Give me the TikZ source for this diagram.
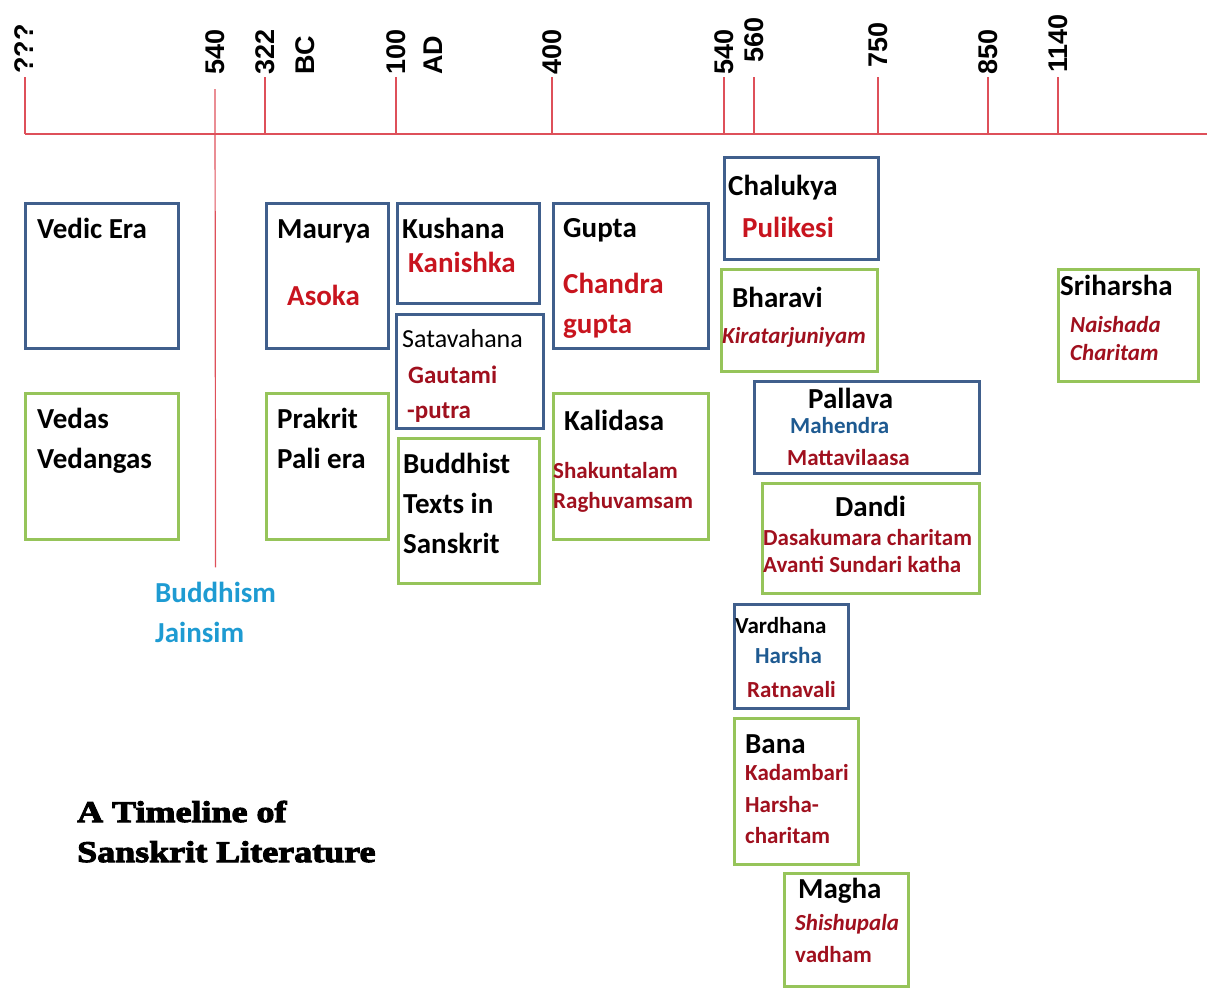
\documentclass[tikz,border=0pt]{standalone}
\usepackage{fontspec}
\setmainfont{Carlito}
\newfontfamily\tickfont{Liberation Sans}
\newfontfamily\titlefont[FakeStretch=1.2,FakeBold=3.5]{Liberation Serif}
\definecolor{boxblue}{RGB}{64,95,140}
\definecolor{boxgreen}{RGB}{150,196,90}
\definecolor{tlred}{RGB}{222,80,90}
\definecolor{redA}{RGB}{200,20,30}
\definecolor{redB}{RGB}{160,16,30}
\definecolor{textblue}{RGB}{30,90,145}
\definecolor{skyblue}{RGB}{30,155,210}

\begin{document}
\begin{tikzpicture}[x=1pt, y=-1pt,
    era/.style={draw=boxblue, line width=3pt, anchor=north west, inner sep=0pt},
    work/.style={draw=boxgreen, line width=3pt, anchor=north west, inner sep=0pt},
    head/.style={font=\bfseries\fontsize{29}{31}\selectfont, anchor=base west, inner sep=0pt},
    king/.style={head, text=redA},
    sub/.style={font=\bfseries\fontsize{23}{25}\selectfont, text=redB, anchor=base west, inner sep=0pt},
    year/.style={font=\tickfont\bfseries\fontsize{27}{29}\selectfont, rotate=90, anchor=west, inner sep=0pt},
    tl/.style={draw=tlred, line width=1.2pt}]
    \useasboundingbox (0,0) rectangle (1207,988);

    % time line
    \coordinate (tlstart) at (25,134);
    \coordinate (tlend) at (1207,134);
    \draw[tl] (tlstart) -- (tlend);
    \foreach \x/\n in {25/q, 265/bc, 396/ad, 552/f, 724/fb, 754/fs, 878/s, 988/e, 1058/t}
      {\coordinate (top\n) at (\x,77);
       \coordinate (bot\n) at (\x,134);
       \draw[tl] (top\n) -- (bot\n);}
    \node[year] (yq)   at (24,74)   {???};
    \node[year] (yb)   at (215,75)  {540};
    \node[year] (ybc)  at (265,75)  {322};
    \node[year] (lbc)  at (305,75)  {BC};
    \node[year] (yad)  at (396,75)  {100};
    \node[year] (lad)  at (433,75)  {AD};
    \node[year] (yf)   at (552,75)  {400};
    \node[year] (yfb)  at (724,75)  {540};
    \node[year] (yfs)  at (754,63)  {560};
    \node[year] (ys)   at (878,68)  {750};
    \node[year] (ye)   at (988,75)  {850};
    \node[year] (yt)   at (1058,73) {1140};

    % religions
    \node[head, text=skyblue] (buddhism) at (155,602) {Buddhism};
    \node[head, text=skyblue] (jainism)  at (155,642) {Jainsim};
    \coordinate (b540) at (215,89);
    \draw[tl] (b540) -- (buddhism.north) [shorten >=14pt];

    % eras and works
    \node[era, minimum width=153, minimum height=145] (vedic) at (24,202) {};
    \node[head] (vedict) at (37,238) {Vedic Era};
    \node[work, minimum width=153, minimum height=146] (vedas) at (24,392) {};
    \node[head] (vedast) at (37,428) {Vedas};
    \node[head] (vedangas) at (37,468) {Vedangas};

    \node[era, minimum width=122, minimum height=145] (maurya) at (265,202) {};
    \node[head] (mauryat) at (277,238) {Maurya};
    \node[king] (asoka) at (287,305) {Asoka};
    \node[work, minimum width=122, minimum height=146] (prakrit) at (265,392) {};
    \node[head] (prakritt) at (277,428) {Prakrit};
    \node[head] (pali) at (277,468) {Pali era};

    \node[era, minimum width=142, minimum height=100] (kushana) at (396,202) {};
    \node[head] (kushanat) at (402,238) {Kushana};
    \node[king] (kanishka) at (408,272) {Kanishka};
    \node[era, minimum width=147, minimum height=114] (satavahana) at (395,313) {};
    \node[anchor=base west, inner sep=0pt, font=\fontsize{26}{28}\selectfont] (satavahanat) at (402,347) {Satavahana};
    \node[sub, font=\bfseries\fontsize{25}{27}\selectfont] (gautami) at (408,383) {Gautami};
    \node[sub, font=\bfseries\fontsize{25}{27}\selectfont] (putra) at (407,418) {-putra};
    \node[work, minimum width=141, minimum height=145] (buddhist) at (397,437) {};
    \node[head] (buddhistt) at (403,473) {Buddhist};
    \node[head] (texts) at (403,513) {Texts in};
    \node[head] (sanskrit) at (403,553) {Sanskrit};

    \node[era, minimum width=155, minimum height=145] (gupta) at (552,202) {};
    \node[head] (guptat) at (563,237) {Gupta};
    \node[king] (chandra) at (563,293) {Chandra};
    \node[king] (chandrab) at (563,333) {gupta};
    \node[work, minimum width=155, minimum height=146] (kalidasa) at (552,392) {};
    \node[head] (kalidasat) at (564,430) {Kalidasa};
    \node[sub] (shakuntalam) at (553,478) {Shakuntalam};
    \node[sub] (raghu) at (553,508) {Raghuvamsam};

    \node[era, minimum width=154, minimum height=102] (chalukya) at (723,156) {};
    \node[head] (chalukyat) at (728,195) {Chalukya};
    \node[king] (pulikesi) at (742,237) {Pulikesi};
    \node[work, minimum width=156, minimum height=102] (bharavi) at (720,268) {};
    \node[head] (bharavit) at (732,307) {Bharavi};
    \node[sub, font=\bfseries\itshape\fontsize{23}{25}\selectfont] (kirata) at (722,343) {Kiratarjuniyam};

    \node[era, minimum width=225, minimum height=92] (pallava) at (753,380) {};
    \node[head] (pallavat) at (808,408) {Pallava};
    \node[sub, text=textblue] (mahendra) at (790,433) {Mahendra};
    \node[sub] (matta) at (787,465) {Mattavilaasa};
    \node[work, minimum width=217, minimum height=110] (dandi) at (761,482) {};
    \node[head] (dandit) at (835,516) {Dandi};
    \node[sub] (dasa) at (763,545) {Dasakumara charitam};
    \node[sub] (avanti) at (763,572) {Avanti Sundari katha};

    \node[era, minimum width=114, minimum height=104] (vardhana) at (733,603) {};
    \node[sub, text=black] (vardhanat) at (735,633) {Vardhana};
    \node[sub, text=textblue] (harsha) at (755,663) {Harsha};
    \node[sub] (ratnavali) at (747,697) {Ratnavali};
    \node[work, minimum width=124, minimum height=146] (bana) at (733,717) {};
    \node[head] (banat) at (745,753) {Bana};
    \node[sub] (kadambari) at (745,780) {Kadambari};
    \node[sub] (harshaa) at (745,812) {Harsha-};
    \node[sub] (harshab) at (745,843) {charitam};
    \node[work, minimum width=124, minimum height=113] (magha) at (783,872) {};
    \node[head] (maghat) at (798,898) {Magha};
    \node[sub, font=\bfseries\itshape\fontsize{23}{25}\selectfont] (shishu) at (795,930) {Shishupala};
    \node[sub] (vadham) at (795,962) {vadham};

    \node[work, minimum width=140, minimum height=112] (sriharsha) at (1057,268) {};
    \node[head] (sriharshat) at (1060,295) {Sriharsha};
    \node[sub, font=\bfseries\itshape\fontsize{23}{25}\selectfont] (naishada) at (1070,332) {Naishada};
    \node[sub, font=\bfseries\itshape\fontsize{23}{25}\selectfont] (charitam) at (1070,360) {Charitam};

    % title
    \node[anchor=base west, inner sep=0pt, font=\titlefont\bfseries\fontsize{30}{32}\selectfont] (title) at (77,822) {A Timeline of};
    \node[anchor=base west, inner sep=0pt, font=\titlefont\bfseries\fontsize{30}{32}\selectfont] (titleb) at (77,862) {Sanskrit Literature};
\end{tikzpicture}
\end{document}
